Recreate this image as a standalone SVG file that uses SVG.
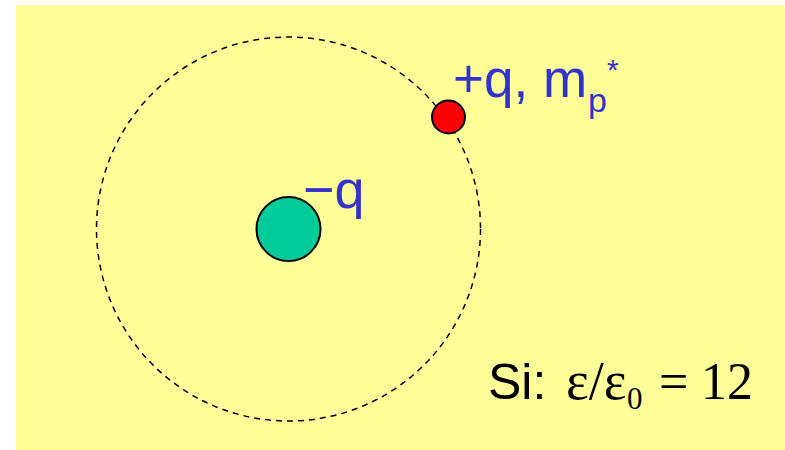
<svg xmlns="http://www.w3.org/2000/svg" width="785" height="450" viewBox="0 0 785 450">
<style>
.lbl{font-family:"Liberation Sans",Arial,sans-serif;fill:#3333CC}
.blk{font-family:"Liberation Sans",Arial,sans-serif;fill:#000}
.ser{font-family:"Liberation Serif","Times New Roman",serif;fill:#000}
</style>
<rect x="16" y="5" width="769" height="445" fill="#FFFF99"/>
<g id="connectors">
<circle id="orbit" cx="288.5" cy="229" r="192" fill="none" stroke="#000" stroke-width="1.5" stroke-dasharray="6,5"/>
</g>
<g id="nucleus">
<circle cx="288.5" cy="229" r="32" fill="#00CC99" stroke="#000" stroke-width="2"/>
<text class="lbl" x="303" y="208" font-size="54">−q</text>
</g>
<g id="hole">
<circle cx="448.5" cy="117" r="16.5" fill="#FF0000" stroke="#000" stroke-width="2"/>
<text class="lbl" x="453" y="97" font-size="53">+q, m</text>
<text class="lbl" x="588" y="112" font-size="34">p</text>
<text class="lbl" x="607" y="80" font-size="30">*</text>
</g>
<g id="material">
<text class="blk" x="488" y="399" font-size="50">Si:</text>
<text class="ser" x="566" y="399" font-size="54">ε/ε</text>
<text class="ser" x="627" y="409" font-size="31">0</text>
<text class="ser" x="659" y="399" font-size="52">=</text>
<text class="ser" x="701" y="399" font-size="52">12</text>
</g>
</svg>
